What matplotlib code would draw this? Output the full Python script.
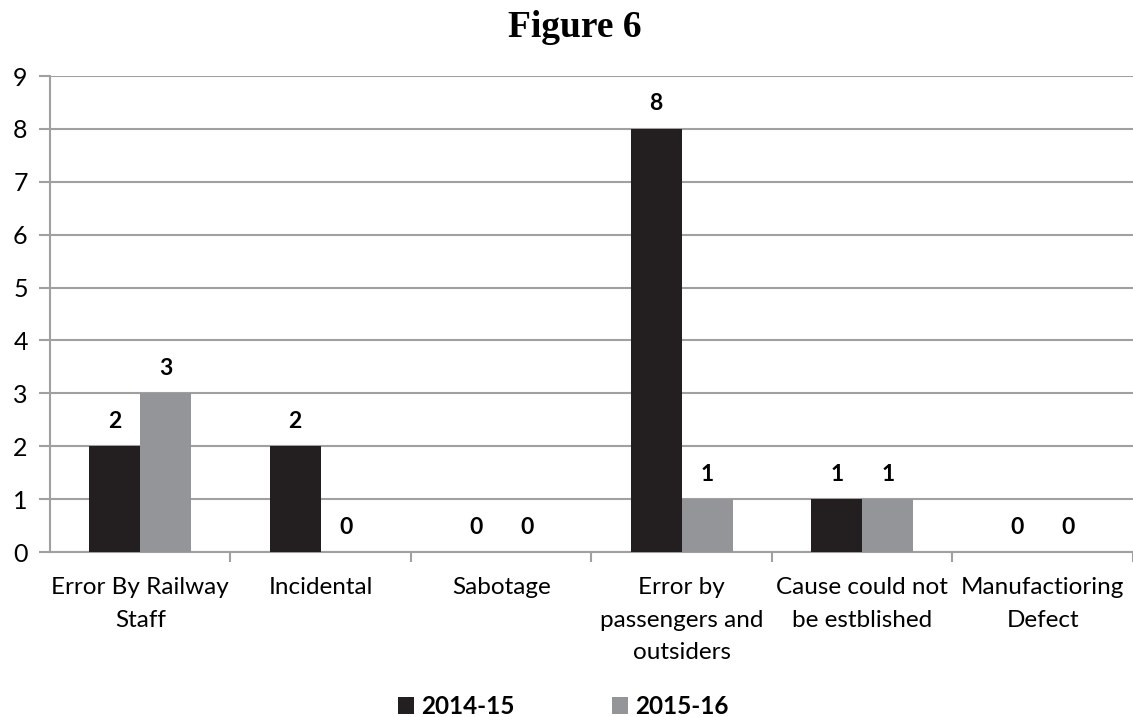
import numpy as np
import matplotlib.pyplot as plt
from matplotlib.patches import Patch

categories = ["Error By Railway\nStaff", "Incidental", "Sabotage",
              "Error by\npassengers and\noutsiders", "Cause could not\nbe estblished",
              "Manufactioring\nDefect"]
years = ["2014-15", "2015-16"]
values_1415 = [2, 2, 0, 8, 1, 0]
values_1516 = [3, 0, 0, 1, 1, 0]
colors = ["#231f20", "#939598"]

plt.rcParams['font.family'] = ['Lato', 'DejaVu Sans']

fig = plt.figure(figsize=(11.33, 7.17), dpi=100)
ax = fig.add_axes([0.0441, 0.2301, 0.9559, 0.6638])

x = np.arange(len(categories))
w = 0.283
for i, (vals, c) in enumerate(zip([values_1415, values_1516], colors)):
    pos = x + (i - 0.5) * w
    ax.bar(pos, vals, width=w, color=c, zorder=3)
    for p, v in zip(pos, vals):
        ax.annotate(str(v), (p, v), xytext=(0, 18), textcoords="offset points",
                    ha="center", va="center", fontsize=16.5, fontweight="bold")

ax.set_xlim(-0.5, len(categories) - 0.5)
ax.set_ylim(0, 9)
ax.set_yticks(range(10))
ax.yaxis.grid(True, color="#a0a0a0", linewidth=1.5, zorder=0)
ax.tick_params(axis="y", length=8, width=1.5, color="#a0a0a0", labelsize=18, pad=8)

ax.set_xticks(x)
ax.set_xticklabels(categories, fontsize=17.5, linespacing=1.68)
ax.tick_params(axis="x", length=0, pad=18)
ax.set_xticks(np.arange(len(categories)) + 0.5, minor=True)
ax.tick_params(axis="x", which="minor", length=7, width=1.5, color="#a0a0a0")

for s in ["top", "right"]:
    ax.spines[s].set_visible(False)
for s in ["left", "bottom"]:
    ax.spines[s].set_color("#a0a0a0")
    ax.spines[s].set_linewidth(1.5)

fig.text(0.507, 0.962, "Figure 6", ha="center", va="center", fontsize=27,
         fontweight="bold", family="Liberation Serif")

handles = [Patch(facecolor=c, label=y) for c, y in zip(colors, years)]
leg = fig.legend(handles=handles, loc="lower center", bbox_to_anchor=(0.497, -0.032),
                 ncol=2, frameon=False, handlelength=0.65, handleheight=0.65,
                 handletextpad=0.3, columnspacing=4.0,
                 prop={"weight": "bold", "size": 17.5})

fig.savefig("out.png", dpi=100)
